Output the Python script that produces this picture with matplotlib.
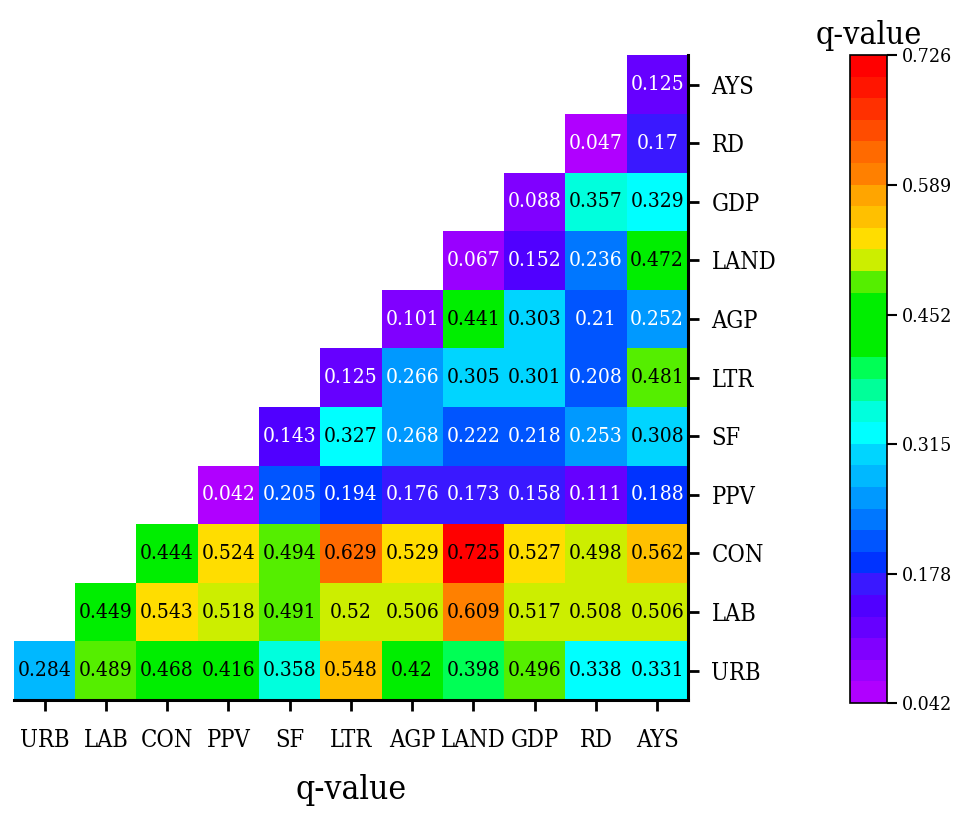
import matplotlib
matplotlib.use("Agg")
import matplotlib.pyplot as plt
import numpy as np
from matplotlib.colors import ListedColormap, BoundaryNorm

plt.rcParams['font.family'] = ['DejaVu Serif']
plt.rcParams['font.stretch'] = 'condensed'

factors = ["URB", "LAB", "CON", "PPV", "SF", "LTR", "AGP", "LAND", "GDP", "RD", "AYS"]

# each row starts on the diagonal (row factor == column factor)
q_urb = [0.284, 0.489, 0.468, 0.416, 0.358, 0.548, 0.42, 0.398, 0.496, 0.338, 0.331]
q_lab = [0.449, 0.543, 0.518, 0.491, 0.52, 0.506, 0.609, 0.517, 0.508, 0.506]
q_con = [0.444, 0.524, 0.494, 0.629, 0.529, 0.725, 0.527, 0.498, 0.562]
q_ppv = [0.042, 0.205, 0.194, 0.176, 0.173, 0.158, 0.111, 0.188]
q_sf = [0.143, 0.327, 0.268, 0.222, 0.218, 0.253, 0.308]
q_ltr = [0.125, 0.266, 0.305, 0.301, 0.208, 0.481]
q_agp = [0.101, 0.441, 0.303, 0.21, 0.252]
q_land = [0.067, 0.152, 0.236, 0.472]
q_gdp = [0.088, 0.357, 0.329]
q_rd = [0.047, 0.17]
q_ays = [0.125]
rows = [q_urb, q_lab, q_con, q_ppv, q_sf, q_ltr, q_agp, q_land, q_gdp, q_rd, q_ays]

cbar_ticks = [0.042, 0.178, 0.315, 0.452, 0.589, 0.726]

# 30-step rainbow (bottom -> top)
band_colors = [
    "#b000ff", "#9900ff", "#8000ff", "#6600ff", "#5000ff", "#3a18ff",
    "#0033ff", "#0055ff", "#0077ff", "#0099ff", "#00b8ff", "#00d5ff",
    "#00ffff", "#00ffdd", "#00ff99", "#00ff55", "#00ee00", "#00ee00",
    "#00ee00", "#55ee00", "#ccee00", "#ffdd00", "#ffc000", "#ffa500",
    "#ff8000", "#ff6a00", "#ff4c00", "#ff3000", "#ff1500", "#ff0000",
]
cmap = ListedColormap(band_colors)
bounds = np.linspace(0.042, 0.726, len(band_colors) + 1)
norm = BoundaryNorm(bounds, cmap.N)

n = len(factors)
grid = np.full((n, n), np.nan)
for i, r in enumerate(rows):
    grid[i, i:] = r
grid = np.ma.masked_invalid(grid)

fig = plt.figure(figsize=(9.64, 8.13), dpi=100)
ax = fig.add_axes([0.0145, 0.139, 0.699, 0.793])
mesh = ax.pcolormesh(np.arange(n + 1), np.arange(n + 1), grid, cmap=cmap, norm=norm)

for i, r in enumerate(rows):
    for k, v in enumerate(r):
        j = i + k
        ax.text(j + 0.5, i + 0.5, f"{v:g}", ha="center", va="center",
                fontsize=15, color="white" if v < 0.275 else "black")

ax.set_xlim(0, n)
ax.set_ylim(0, n)
ax.set_xticks(np.arange(n) + 0.5)
ax.set_xticklabels(factors)
ax.set_yticks(np.arange(n) + 0.5)
ax.set_yticklabels(factors)
ax.yaxis.tick_right()
ax.spines["left"].set_visible(False)
ax.spines["top"].set_visible(False)
ax.spines["bottom"].set_linewidth(2.2)
ax.spines["right"].set_linewidth(2.2)
ax.tick_params(axis="both", direction="out", length=8, width=2, labelsize=17)
ax.tick_params(axis="x", pad=13)
ax.tick_params(axis="y", pad=9)
ax.set_xlabel("q-value", fontsize=24, labelpad=16)

cax = fig.add_axes([0.8817, 0.1353, 0.0384, 0.797])
cb = fig.colorbar(mesh, cax=cax, ticks=cbar_ticks)
cb.minorticks_off()
cb.ax.set_yticklabels([f"{t:.3f}" for t in cbar_ticks])
cb.ax.tick_params(length=7, width=1.5, labelsize=14, pad=4)
cb.outline.set_linewidth(1.2)
cb.ax.set_title("q-value", fontsize=23, pad=8)

fig.savefig("out.png", dpi=100)
